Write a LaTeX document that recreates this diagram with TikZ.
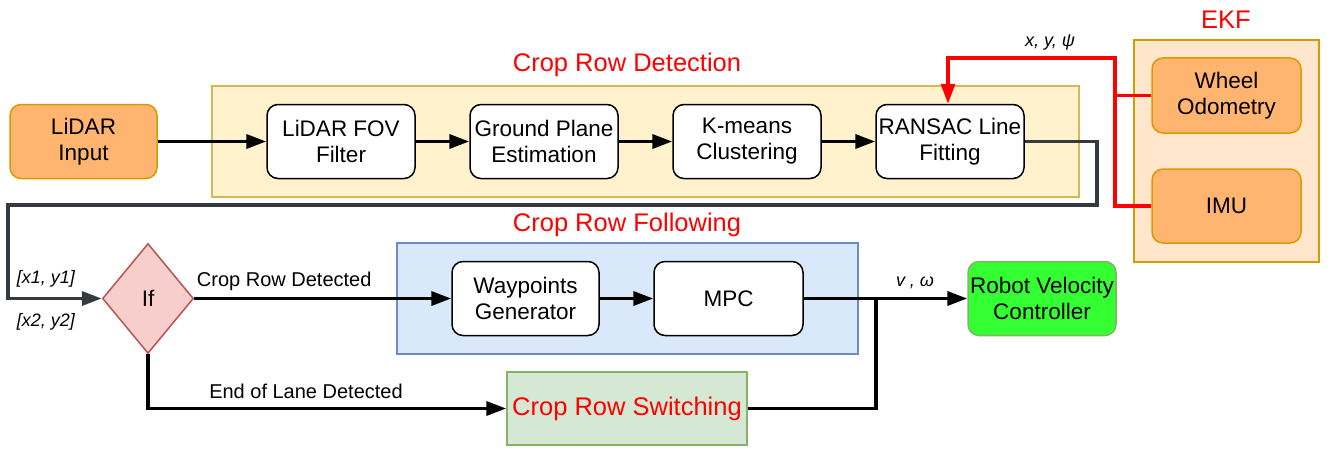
\documentclass[tikz,border=0pt]{standalone}
\usepackage{fontspec}
\setmainfont{Liberation Sans}
\usetikzlibrary{arrows.meta,shapes.geometric}
\definecolor{orfill}{HTML}{FFB570}
\definecolor{ordraw}{HTML}{D79B00}
\definecolor{yelfill}{HTML}{FFF2CC}
\definecolor{yeldraw}{HTML}{D6B656}
\definecolor{ekffill}{HTML}{FFE6CC}
\definecolor{blufill}{HTML}{DAE8FC}
\definecolor{bludraw}{HTML}{6C8EBF}
\definecolor{grnfill}{HTML}{D5E8D4}
\definecolor{grndraw}{HTML}{82B366}
\definecolor{iffill}{HTML}{F8CECC}
\definecolor{ifdraw}{HTML}{B85450}
\definecolor{rvcfill}{HTML}{33FF33}
\definecolor{grayline}{HTML}{36393D}
\begin{document}
\begin{tikzpicture}[x=1pt,y=-1pt,
  boxtext/.style={font=\fontsize{22.5}{26}\selectfont, align=center},
  proc/.style={boxtext, draw=black, line width=1.5pt, fill=white, rounded corners=11pt, minimum width=148pt, minimum height=74pt, inner sep=0pt},
  srcbox/.style={proc, fill=orfill, draw=ordraw},
  container/.style={line width=1.5pt, inner sep=0pt},
  title/.style={font=\fontsize{25.5}{30}\selectfont, text=red},
  elabel/.style={font=\fontsize{20}{24}\selectfont},
  ilabel/.style={font=\fontsize{18}{22}\selectfont\itshape},
  tip/.style={-{Triangle[length=20pt,width=14pt]}},
  flow/.style={line width=3.5pt, tip},
  plain/.style={line width=3.5pt},
]
\useasboundingbox (0,0) rectangle (1332,452);

% containers
\node[container, draw=yeldraw, fill=yelfill, minimum width=867pt, minimum height=111pt] (crd) at (645.5,141.5) {};
\node[container, draw=ordraw, fill=ekffill, minimum width=185pt, minimum height=222pt] (ekf) at (1226.5,151) {};
\node[container, draw=bludraw, fill=blufill, minimum width=461pt, minimum height=111pt] (crf) at (627.5,298.5) {};

% titles
\node[title] (tcrd) at (627,65) {Crop Row Detection};
\node[title] (tcrf) at (627,225) {Crop Row Following};
\node[title] (tekf) at (1226,20) {EKF};

% nodes
\node[srcbox, minimum width=147pt] (lidar) at (83.5,141.5) {LiDAR\\Input};
\node[proc] (fov) at (341,141.5) {LiDAR FOV\\Filter};
\node[proc] (gpe) at (544,141.5) {Ground Plane\\Estimation};
\node[proc] (km) at (747,141.5) {K-means\\Clustering};
\node[proc] (ransac) at (950,141.5) {RANSAC Line\\Fitting};
\node[srcbox, minimum width=149pt, minimum height=75pt] (wheel) at (1226.5,95.5) {Wheel\\Odometry};
\node[srcbox, minimum width=149pt] (imu) at (1226.5,206) {IMU};

\node[boxtext, diamond, draw=ifdraw, fill=iffill, line width=1.5pt, minimum width=91pt, minimum height=110pt, inner sep=0pt] (ifd) at (148,298.5) {If};
\node[proc, minimum width=147pt] (wp) at (525.5,298.5) {Waypoints\\Generator};
\node[proc, minimum width=149pt] (mpc) at (728.5,298.5) {MPC};
\node[proc, fill=rvcfill, draw=grndraw] (rvc) at (1042,298.5) {Robot Velocity\\Controller};
\node[container, draw=grndraw, fill=grnfill, minimum width=240pt, minimum height=73pt, font=\fontsize{25.5}{30}\selectfont, text=red] (crs) at (627,408.5) {Crop Row Switching};

% coordinates
\coordinate (g1) at (1097,141.5);
\coordinate (g2) at (1097,205);
\coordinate (g3) at (8,205);
\coordinate (g4) at (8,298.5);
\coordinate (rt) at (1115,58);
\coordinate (jn) at (876,298.5);
\coordinate (jb) at (876,408.5);
\coordinate (ib) at (148,408.5);

% detection chain
\draw[flow] (lidar) -- (fov);
\draw[flow] (fov) -- (gpe);
\draw[flow] (gpe) -- (km);
\draw[flow] (km) -- (ransac);

% gray feedback
\draw[flow, color=grayline] (ransac.east) -- (g1) -- (g2) -- (g3) -- (g4) -- (ifd.west);

% red EKF lines
\draw[plain, red] (wheel.west) -- (wheel.west -| rt);
\draw[flow, red] (imu.west) -| (rt) -| ([xshift=-2pt]ransac.north);
\node[ilabel] (xyp) at (1050,42) {x, y, ψ};

% following
\draw[flow] (ifd.east) -- (wp.west) node[pos=0.35, elabel, above=3pt] (lcrd) {Crop Row Detected};
\draw[flow] (wp) -- (mpc);
\draw[flow] (mpc.east) -- (rvc.west);
\node[ilabel] (vw) at (915,283) {v , ω};
\draw[flow] (ifd.south) -- (ib) -- (crs.west);
\node[elabel] (leol) at (306,391) {End of Lane Detected};
\draw[plain] (crs.east) -- (jb) -- (jn);

\node[ilabel] (lx1) at (46,279) {[x1, y1]};
\node[ilabel] (lx2) at (46,322) {[x2, y2]};
\end{tikzpicture}
\end{document}
